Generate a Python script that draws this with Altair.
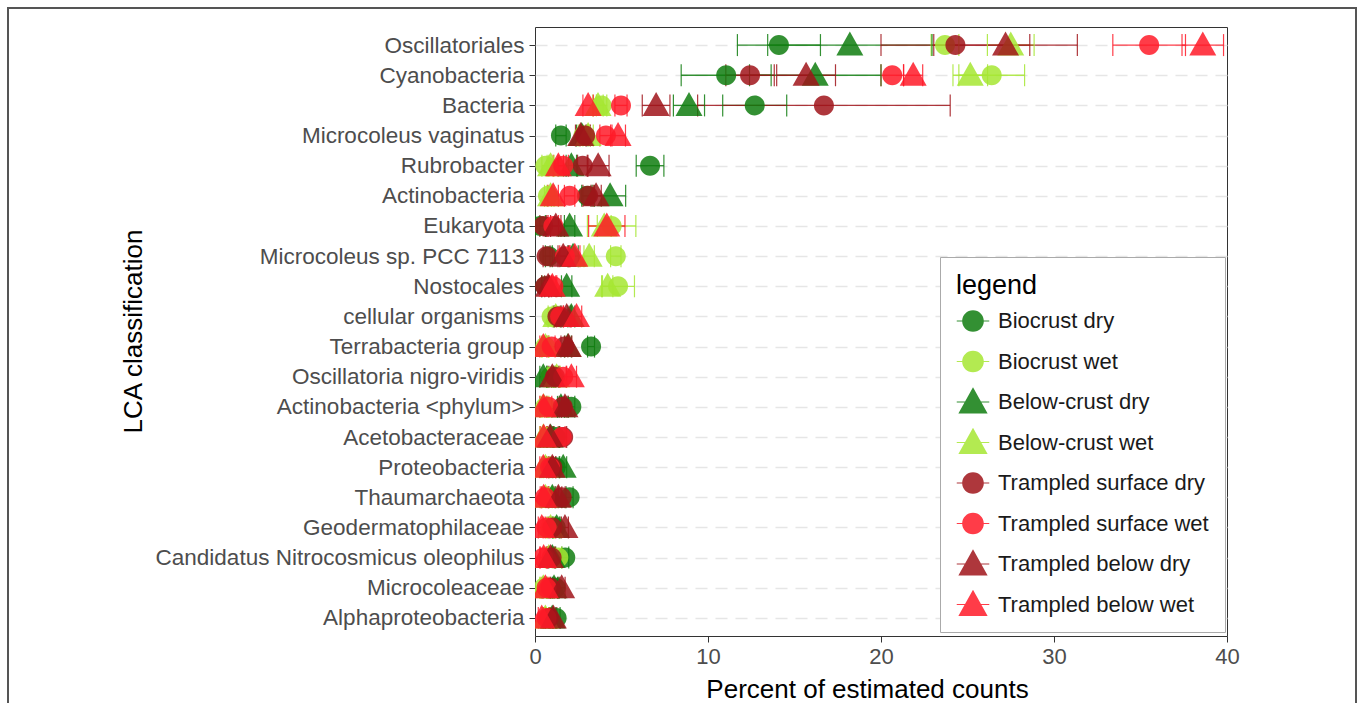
import altair as alt
import pandas as pd

# Taxa, top to bottom
categories = [
    "Oscillatoriales", "Cyanobacteria", "Bacteria", "Microcoleus vaginatus",
    "Rubrobacter", "Actinobacteria", "Eukaryota", "Microcoleus sp. PCC 7113",
    "Nostocales", "cellular organisms", "Terrabacteria group",
    "Oscillatoria nigro-viridis", "Actinobacteria <phylum>", "Acetobacteraceae",
    "Proteobacteria", "Thaumarchaeota", "Geodermatophilaceae",
    "Candidatus Nitrocosmicus oleophilus", "Microcoleaceae", "Alphaproteobacteria",
]

series = [
    "Biocrust dry", "Biocrust wet", "Below-crust dry", "Below-crust wet",
    "Trampled surface dry", "Trampled surface wet", "Trampled below dry", "Trampled below wet",
]

# Mean percent of estimated counts per sample group (same order as categories)
biocrust_dry = [14.1, 11.05, 12.7, 1.5, 6.65, 3.0, 0.3, 0.8, 0.6, 1.3, 3.24, 0.9, 2.1, 1.2, 1.2, 2.0, 1.2, 1.75, 1.2, 1.25]
biocrust_wet = [23.7, 26.4, 3.85, 2.8, 0.6, 0.75, 4.43, 4.67, 4.8, 0.96, 0.6, 0.9, 0.6, 0.7, 0.7, 0.8, 0.9, 1.35, 0.5, 0.7]
below_dry = [18.2, 16.2, 8.9, 2.7, 2.1, 4.34, 2.0, 2.2, 1.83, 2.1, 1.9, 0.48, 1.5, 0.9, 1.63, 1.0, 1.25, 1.0, 1.1, 1.0]
below_wet = [27.5, 25.16, 3.64, 3.07, 0.9, 0.9, 4.0, 3.13, 4.2, 1.2, 0.6, 1.25, 0.5, 0.48, 0.6, 0.6, 0.9, 0.8, 0.48, 0.6]
trampled_surface_dry = [24.3, 12.43, 16.7, 2.9, 2.76, 3.07, 0.48, 0.67, 0.58, 1.3, 1.7, 1.16, 1.6, 1.63, 1.0, 1.54, 1.0, 0.96, 0.9, 0.8]
trampled_surface_wet = [35.5, 20.65, 4.97, 4.1, 1.63, 2.0, 1.06, 1.73, 1.06, 1.45, 0.96, 1.63, 0.77, 1.54, 0.87, 0.58, 0.67, 0.48, 0.67, 0.67]
trampled_below_dry = [27.2, 15.67, 7.0, 2.64, 3.65, 3.53, 1.2, 1.63, 0.76, 1.83, 1.93, 1.0, 1.73, 0.87, 1.0, 1.35, 1.73, 0.9, 1.54, 1.06]
trampled_below_wet = [38.6, 21.86, 3.07, 4.8, 1.35, 1.05, 4.15, 2.3, 1.0, 2.4, 0.48, 2.1, 0.48, 0.5, 0.48, 0.5, 0.39, 0.5, 0.6, 0.39]

# Standard deviations (half-width of the error bars)
biocrust_dry_sd = [2.4, 2.6, 1.85, 0.3, 0.8, 0.3, 0.3, 0.2, 0.2, 0.2, 0.2, 0.2, 0.2, 0.2, 0.2, 0.2, 0.2, 0.2, 0.2, 0.2]
biocrust_wet_sd = [0.8, 1.9, 0.3, 0.3, 0.2, 0.2, 1.4, 0.3, 0.95, 0.2, 0.2, 0.2, 0.2, 0.2, 0.2, 0.2, 0.2, 0.2, 0.2, 0.2]
below_dry_sd = [4.75, 3.8, 0.9, 0.3, 0.3, 0.9, 0.3, 0.3, 0.3, 0.2, 0.2, 0.2, 0.2, 0.2, 0.2, 0.2, 0.2, 0.2, 0.2, 0.2]
below_wet_sd = [1.35, 1.0, 0.3, 0.3, 0.2, 0.2, 0.4, 0.3, 0.3, 0.2, 0.2, 0.2, 0.2, 0.2, 0.2, 0.2, 0.2, 0.2, 0.2, 0.2]
trampled_surface_dry_sd = [4.3, 1.4, 7.3, 0.3, 0.3, 0.3, 0.2, 0.2, 0.2, 0.2, 0.2, 0.2, 0.2, 0.2, 0.2, 0.2, 0.2, 0.2, 0.2, 0.2]
trampled_surface_wet_sd = [2.1, 0.65, 0.35, 0.35, 0.3, 0.3, 0.3, 0.3, 0.2, 0.2, 0.2, 0.2, 0.2, 0.2, 0.2, 0.2, 0.2, 0.2, 0.2, 0.2]
trampled_below_dry_sd = [4.15, 1.7, 0.8, 0.3, 0.63, 0.3, 0.3, 0.3, 0.2, 0.2, 0.2, 0.2, 0.2, 0.2, 0.2, 0.2, 0.2, 0.2, 0.2, 0.2]
trampled_below_wet_sd = [1.2, 0.55, 0.3, 0.43, 0.3, 0.3, 1.05, 0.3, 0.2, 0.3, 0.2, 0.3, 0.2, 0.2, 0.2, 0.2, 0.2, 0.2, 0.2, 0.2]

means = [biocrust_dry, biocrust_wet, below_dry, below_wet,
         trampled_surface_dry, trampled_surface_wet, trampled_below_dry, trampled_below_wet]
sds = [biocrust_dry_sd, biocrust_wet_sd, below_dry_sd, below_wet_sd,
       trampled_surface_dry_sd, trampled_surface_wet_sd, trampled_below_dry_sd, trampled_below_wet_sd]

colors = ["#0f7d0f", "#a6e632", "#0f7d0f", "#a6e632", "#a0141a", "#ff1a28", "#a0141a", "#ff1a28"]

CIRCLE = "M0,-1A1,1,0,1,1,0,1A1,1,0,1,1,0,-1Z"
TRIANGLE = "M0,-1.35L1.35,1.05L-1.35,1.05Z"
# legend glyphs: symbol with a thin error-bar stroke through it; the empty
# sub-paths keep every glyph the same height so legend rows are evenly spaced
STUB = "M-1.5,-0.05H1.5V0.05H-1.5Z"
PAD = "M0,-1.35ZM0,1.05Z"
point_shapes = [CIRCLE, CIRCLE, TRIANGLE, TRIANGLE, CIRCLE, CIRCLE, TRIANGLE, TRIANGLE]
legend_shapes = [PAD + s + STUB for s in point_shapes]

rows = []
for name, vals, errs in zip(series, means, sds):
    for taxon, v, e in zip(categories, vals, errs):
        rows.append({"taxon": taxon, "series": name, "value": v, "lo": v - e, "hi": v + e})
df = pd.DataFrame(rows)

XTITLE = "Percent of estimated counts"
x_scale = alt.Scale(domain=[0, 40], nice=False, zero=False)
x_axis = alt.Axis(values=[0, 10, 20, 30, 40], title=XTITLE, labelFlush=False, titleX=332)
y_enc = alt.Y("taxon:N", sort=categories, title="LCA classification",
              scale=alt.Scale(type="point", domain=categories, padding=0.6),
              axis=alt.Axis(labelLimit=600, titleX=-389, titleY=304))
color_scale = alt.Scale(domain=series, range=colors)

base = alt.Chart(df)

bars = base.mark_rule(strokeWidth=1.3, opacity=0.85, clip=True).encode(
    x=alt.X("lo:Q", scale=x_scale, axis=x_axis),
    x2="hi:Q",
    y=y_enc,
    color=alt.Color("series:N", scale=color_scale, legend=None),
)
ticks_lo = base.mark_tick(size=22, thickness=1.2, opacity=0.85, clip=True).encode(
    x=alt.X("lo:Q", scale=x_scale, axis=x_axis),
    y=y_enc,
    color=alt.Color("series:N", scale=color_scale, legend=None),
)
ticks_hi = base.mark_tick(size=22, thickness=1.2, opacity=0.85, clip=True).encode(
    x=alt.X("hi:Q", scale=x_scale, axis=x_axis),
    y=y_enc,
    color=alt.Color("series:N", scale=color_scale, legend=None),
)
points = base.mark_point(filled=True, opacity=0.85, size=400, strokeWidth=0, clip=True).encode(
    x=alt.X("value:Q", scale=x_scale, axis=x_axis),
    y=y_enc,
    color=alt.Color("series:N", scale=color_scale, legend=None),
    shape=alt.Shape("series:N", scale=alt.Scale(domain=series, range=point_shapes), legend=None),
)

legend_cfg = dict(
    title="legend", orient="none", legendX=405, legendY=230,
    titleFontSize=27, titleFontWeight="normal", titleColor="black", titlePadding=10,
    labelFontSize=22, labelColor="#1a1a1a", labelOffset=14, labelLimit=400,
    symbolSize=470, symbolOffset=6, symbolOpacity=0.85, symbolStrokeWidth=0,
    rowPadding=13.5, padding=16, strokeColor="#aaaaaa", fillColor="white",
)
legend_layer = base.transform_filter("datum.value < 0").mark_point(
    filled=True, opacity=0.85, size=470, strokeWidth=0
).encode(
    x=alt.X("value:Q", scale=x_scale, axis=x_axis),
    y=y_enc,
    color=alt.Color("series:N", scale=color_scale, legend=alt.Legend(**legend_cfg)),
    shape=alt.Shape("series:N", scale=alt.Scale(domain=series, range=legend_shapes),
                    legend=alt.Legend(**legend_cfg)),
)

# Outer figure frame
frame = alt.Chart(pd.DataFrame({"k": [0]})).mark_rect(
    fillOpacity=0, stroke="#555555", strokeWidth=2, clip=False
).encode(
    x=alt.value(-527), x2=alt.value(821), y=alt.value(-19), y2=alt.value(800)
)

chart = alt.layer(frame, bars, ticks_lo, ticks_hi, points, legend_layer).resolve_scale(
    color="independent", shape="independent"
).properties(
    width=692, height=609,
    padding={"left": 535, "top": 27, "right": 133, "bottom": 67},
    autosize=alt.AutoSizeParams(type="none"),
).configure(
    font="Liberation Sans",
).configure_view(
    stroke="#333333", strokeWidth=1,
).configure_axis(
    labelFontSize=22, labelColor="#4d4d4d", tickColor="#333333", tickSize=6,
    domain=False, titleFontSize=26, titleFontWeight="normal", titleColor="black",
).configure_axisX(
    grid=False, labelPadding=4, titlePadding=9,
).configure_axisY(
    grid=True, gridDash=[12, 8], gridColor="#e6e6e6", gridWidth=1.5,
    labelFontSize=22.5, labelPadding=5, titlePadding=8,
)

chart.save("out.html", embed_options={"renderer": "svg", "actions": False})
